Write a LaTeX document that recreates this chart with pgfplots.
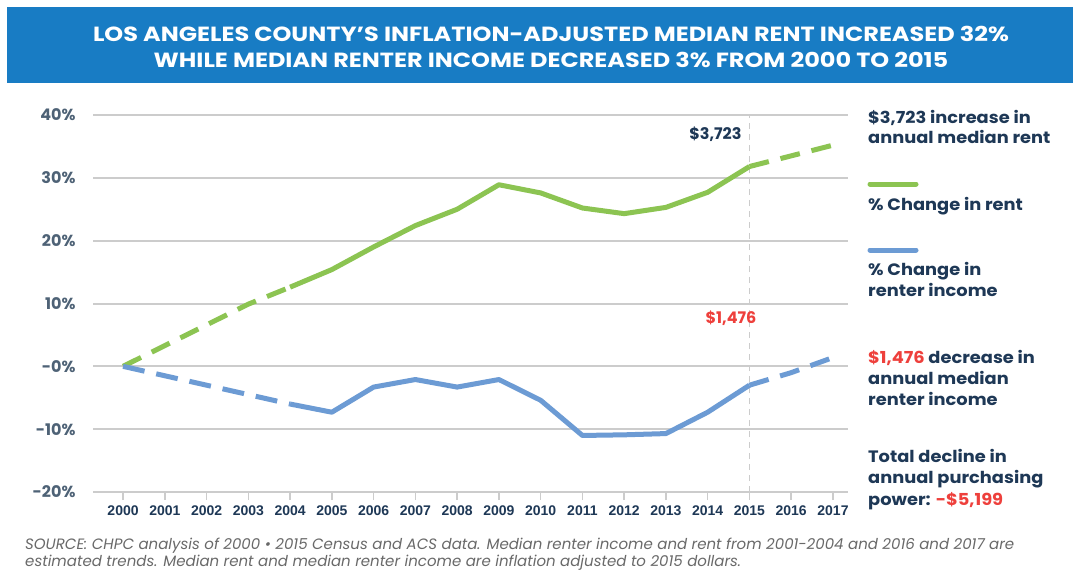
\documentclass[border=0pt]{standalone}
\usepackage{pgfplots}
\pgfplotsset{compat=1.18}
\usepackage{fontspec}
\setmainfont{Poppins}
\newfontfamily\titlefont[FakeStretch=1.17]{Poppins}
\newfontfamily\legfont[FakeStretch=1.08]{Poppins}
\newfontfamily\yearfont{Liberation Sans}
\definecolor{banner}{RGB}{24,124,196}
\definecolor{rentgreen}{RGB}{140,196,82}
\definecolor{incblue}{RGB}{108,155,212}
\definecolor{navy}{RGB}{30,56,86}
\definecolor{tickgray}{RGB}{78,98,118}
\definecolor{redtxt}{RGB}{238,64,60}
\definecolor{gridgray}{RGB}{204,204,204}
\definecolor{srcgray}{RGB}{105,105,105}

\begin{document}
\begin{tikzpicture}[x=1pt,y=1pt]
\path[use as bounding box, fill=white] (0,0) rectangle (1073,-571);
\fill[banner] (7,-7) rectangle (1073,-83);
\node[white, anchor=base, font=\titlefont\bfseries\fontsize{20.5}{24}\selectfont] at (551,-41) {LOS ANGELES COUNTY’S INFLATION-ADJUSTED MEDIAN RENT INCREASED 32\%};
\node[white, anchor=base, font=\titlefont\bfseries\fontsize{20.5}{24}\selectfont] at (551,-67) {WHILE MEDIAN RENTER INCOME DECREASED 3\% FROM 2000 TO 2015};

\begin{axis}[
  at={(93pt,-492pt)}, anchor=south west, scale only axis,
  width=755pt, height=377pt,
  xmin=1999.28, xmax=2017.36, ymin=-20, ymax=40,
  axis line style={draw=none},
  ymajorgrids, grid style={gridgray, line width=2pt},
  ytick={-20,-10,0,10,20,30,40},
  yticklabels={-20\%,-10\%,-0\%,10\%,20\%,30\%,40\%},
  xtick={2000,2001,2002,2003,2004,2005,2006,2007,2008,2009,2010,2011,2012,2013,2014,2015,2016,2017},
  xticklabels={2000,2001,2002,2003,2004,2005,2006,2007,2008,2009,2010,2011,2012,2013,2014,2015,2016,2017},
  tick align=outside, xtick pos=bottom, ytick pos=left,
  major tick length=8pt,
  xtick style={gridgray, line width=1.5pt},
  ytick style={draw=none},
  yticklabel style={font=\bfseries\fontsize{16}{16}\selectfont, text=tickgray, xshift=-6pt},
  xticklabel style={font=\yearfont\bfseries\fontsize{14}{14}\selectfont, text=navy, yshift=-2pt},
  clip=false,
]
% vertical marker at 2015
\addplot[gridgray, line width=1.2pt, dash pattern=on 6pt off 5pt] coordinates {(2015,-20) (2015,40)};
% rent: estimated segments dashed
\addplot[rentgreen, line width=5pt, dash pattern=on 20pt off 12pt] coordinates {
(2000,0) (2001,3.3) (2002,6.6) (2003,9.9) (2004,12.6)};
\addplot[rentgreen, line width=5pt, line join=round] coordinates {
(2004,12.6) (2005,15.4) (2006,19.0) (2007,22.4) (2008,25.0) (2009,28.9) (2010,27.6) (2011,25.2) (2012,24.3) (2013,25.3) (2014,27.7) (2015,31.8)};
\addplot[rentgreen, line width=5pt, dash pattern=on 20pt off 12pt] coordinates {
(2015,31.8) (2016,33.5) (2017,35.2)};
% renter income
\addplot[incblue, line width=5pt, dash pattern=on 22pt off 12pt] coordinates {
(2000,0) (2001,-1.5) (2002,-3.0) (2003,-4.5) (2004,-6.0)};
\addplot[incblue, line width=5pt, line join=round] coordinates {
(2004,-6.0) (2005,-7.3) (2006,-3.3) (2007,-2.1) (2008,-3.3) (2009,-2.1) (2010,-5.4) (2011,-11.0) (2012,-10.9) (2013,-10.7) (2014,-7.3) (2015,-3.0)};
\addplot[incblue, line width=5pt, dash pattern=on 20pt off 12pt] coordinates {
(2015,-3.0) (2016,-1.0) (2017,1.4)};
\end{axis}

\node[navy, anchor=base east, font=\bfseries\fontsize{16}{16}\selectfont] at (745,-139) {\$3,723};
\node[redtxt, anchor=base, font=\bfseries\fontsize{16}{16}\selectfont] at (731,-323) {\$1,476};

% right-hand legend
\begin{scope}[every node/.style={anchor=base west, inner sep=0pt, text=navy, font=\legfont\bfseries\fontsize{16.5}{16.5}\selectfont}]
\node at (868,-123) {\$3,723 increase in};
\node at (868,-143) {annual median rent};
\draw[rentgreen, line width=5pt, line cap=round] (870,-184) -- (916,-184);
\node at (868,-210) {\% Change in rent};
\draw[incblue, line width=5pt, line cap=round] (870,-250) -- (916,-250);
\node at (868,-275) {\% Change in};
\node at (868,-296) {renter income};
\node at (868,-363) {\textcolor{redtxt}{\$1,476} decrease in};
\node at (868,-384) {annual median};
\node at (868,-405) {renter income};
\node at (868,-462) {Total decline in};
\node at (868,-483) {annual purchasing};
\node at (868,-505) {power: \textcolor{redtxt}{-\$5,199}};
\end{scope}

\node[anchor=base west, inner sep=0pt, text=srcgray, font=\itshape\fontsize{15}{15}\selectfont] at (25,-549) {SOURCE: CHPC analysis of 2000 • 2015 Census and ACS data. Median renter income and rent from 2001-2004 and 2016 and 2017 are};
\node[anchor=base west, inner sep=0pt, text=srcgray, font=\itshape\fontsize{15}{15}\selectfont] at (25,-566) {estimated trends. Median rent and median renter income are inflation adjusted to 2015 dollars.};
\end{tikzpicture}
\end{document}
